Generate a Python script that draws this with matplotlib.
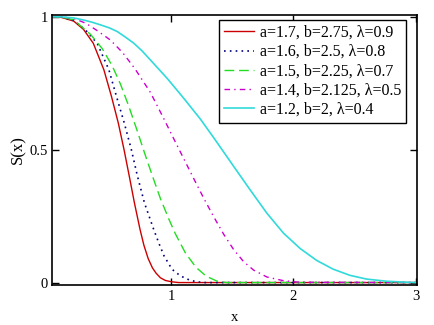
import matplotlib
matplotlib.use("Agg")
import matplotlib.pyplot as plt

plt.rcParams['font.family'] = ['Liberation Serif', 'DejaVu Serif']

# values (S(x) for each parameter set)
x_red = [0, 0.1, 0.2, 0.28, 0.36, 0.447, 0.509, 0.565, 0.612, 0.655, 0.697, 0.743, 0.775, 0.81, 0.845, 0.875, 0.91, 0.95, 1.0, 1.06, 3.0]
y_red = [1, 0.997, 0.983, 0.952, 0.9, 0.8, 0.7, 0.6, 0.5, 0.4, 0.3, 0.2, 0.14, 0.09, 0.055, 0.035, 0.018, 0.008, 0.003, 0, 0]

x_blue = [0, 0.1, 0.2, 0.3, 0.392, 0.488, 0.55, 0.614, 0.672, 0.722, 0.779, 0.855, 0.9, 0.94, 1.005, 1.074, 1.155, 1.25, 3.0]
y_blue = [1, 0.998, 0.986, 0.948, 0.9, 0.8, 0.7, 0.6, 0.5, 0.4, 0.3, 0.2, 0.145, 0.1, 0.05, 0.025, 0.008, 0, 0]

x_green = [0, 0.1, 0.2, 0.338, 0.433, 0.515, 0.583, 0.651, 0.719, 0.787, 0.856, 0.91, 0.978, 1.033, 1.114, 1.2, 1.285, 1.37, 1.45, 3.0]
y_green = [1, 0.998, 0.988, 0.933, 0.88, 0.815, 0.746, 0.663, 0.572, 0.478, 0.386, 0.316, 0.24, 0.183, 0.112, 0.058, 0.024, 0.006, 0, 0]

x_mag = [0, 0.1, 0.2, 0.3, 0.4, 0.5, 0.6, 0.7, 0.828, 0.937, 1.019, 1.101, 1.183, 1.264, 1.346, 1.428, 1.51, 1.591, 1.673, 1.782, 1.918, 2.05, 3.0]
y_mag = [1, 0.999, 0.993, 0.975, 0.945, 0.912, 0.865, 0.805, 0.715, 0.617, 0.541, 0.466, 0.391, 0.318, 0.248, 0.182, 0.124, 0.079, 0.047, 0.021, 0.007, 0.001, 0]

x_cyan = [0, 0.1, 0.2, 0.283, 0.35, 0.419, 0.49, 0.556, 0.62, 0.692, 0.76, 0.828, 0.965, 1.101, 1.237, 1.346, 1.41, 1.51, 1.646, 1.782, 1.918, 2.055, 2.191, 2.327, 2.464, 2.6, 2.764, 2.93, 3.0]
y_cyan = [1, 0.999, 0.995, 0.987, 0.979, 0.969, 0.958, 0.944, 0.924, 0.9, 0.871, 0.837, 0.768, 0.693, 0.615, 0.545, 0.503, 0.437, 0.348, 0.261, 0.186, 0.128, 0.083, 0.05, 0.027, 0.013, 0.005, 0.001, 0]

labels = ['a=1.7, b=2.75, λ=0.9',
          'a=1.6, b=2.5, λ=0.8',
          'a=1.5, b=2.25, λ=0.7',
          'a=1.4, b=2.125, λ=0.5',
          'a=1.2, b=2, λ=0.4']

fig = plt.figure(figsize=(4.35, 3.25), dpi=100)
ax = fig.add_axes([0.119, 0.122, 0.839, 0.833])

ax.plot(x_red, y_red, color='#cc0000', lw=1.0, label=labels[0])
ax.plot(x_blue, y_blue, color='#000080', lw=1.2, dashes=(1, 2.5), label=labels[1])
ax.plot(x_green, y_green, color='#22dd22', lw=1.0, dashes=(7, 3.5), label=labels[2])
ax.plot(x_mag, y_mag, color='#cc00cc', lw=1.0, dashes=(4, 3, 1, 3), label=labels[3])
ax.plot(x_cyan, y_cyan, color='#30dada', lw=1.2, label=labels[4])

ax.set_xlim(0.02, 3.01)
ax.set_ylim(-0.0105, 1.0075)
ax.set_xticks([1, 2, 3])
ax.set_xticklabels(['1', '2', '3'])
ax.set_yticks([0, 0.5, 1])
ax.set_yticklabels(['0', '0.5', '1'])
ax.tick_params(direction='in', length=5, width=1, top=True, right=True,
               labelsize=10.5, colors='black', pad=3)
for s in ax.spines.values():
    s.set_linewidth(1.2)

ax.set_xlabel('x', fontsize=10.5, labelpad=6)
ax.set_ylabel('S(x)', fontsize=12, labelpad=2)

leg = ax.legend(loc='upper left', bbox_to_anchor=(0.503, 0.938),
                bbox_transform=fig.transFigure, borderaxespad=0,
                fontsize=11.5, handlelength=1.9, handletextpad=0.35,
                labelspacing=0.2, borderpad=0.3, fancybox=False,
                framealpha=1, edgecolor='black')
leg.get_frame().set_linewidth(1.0)

fig.savefig('out.png', dpi=100)
